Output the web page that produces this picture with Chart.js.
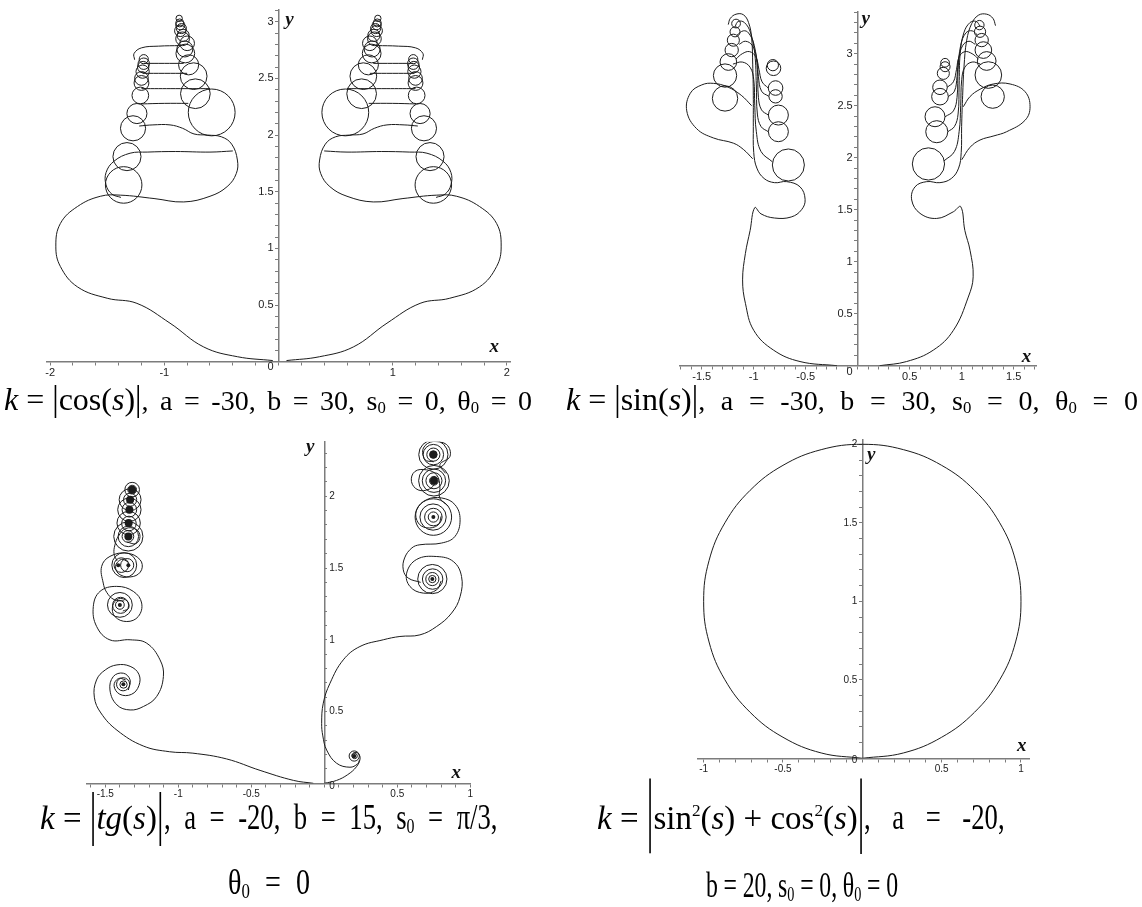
<!DOCTYPE html>
<html lang="ru">
<head>
<meta charset="utf-8">
<title>Кривые по натуральному уравнению</title>
<script src="https://cdn.jsdelivr.net/npm/chart.js@4.4.1/dist/chart.umd.min.js"></script>
<style>
  html, body { margin: 0; background: #fff; }
  body { position: relative; width: 1142px; height: 907px; overflow: hidden; }
  canvas { position: absolute; }
  .cap {
    position: absolute; font-family: 'Liberation Serif', 'Times New Roman', serif;
    line-height: 36px; color: #000; white-space: nowrap; will-change: transform;
  }
  .cap .big { font-size: 32px; }
  .cap .rest { font-size: 28px; display: inline-block; transform-origin: 0 50%; }
  .cap.low .big { font-size: 33px; }
  .cap.low .rest { font-size: 36px; }
  .cap sub { font-size: 0.6em; vertical-align: -0.18em; line-height: 0; }
  .cap sup { font-size: 0.52em; vertical-align: 0.75em; line-height: 0; }
  .bar { display: inline-block; transform-origin: 50% 68%; }
</style>
</head>
<body>
<canvas id="cosChart" width="560" height="392" style="left:0;top:0"></canvas>
<canvas id="sinChart" width="562" height="392" style="left:580px;top:0"></canvas>
<canvas id="tgChart" width="560" height="390" style="left:0;top:420px"></canvas>
<canvas id="oneChart" width="562" height="390" style="left:580px;top:420px"></canvas>

<div class="cap" data-right="532" style="left:4px;top:381px"><span class="big"><i>k</i> = <span class="bar" style="transform:scaleY(1.1)">|</span>cos(<i>s</i>)<span class="bar" style="transform:scaleY(1.1)">|</span></span><span class="rest">, a = -30, b = 30, s<sub>0</sub> = 0, θ<sub>0</sub> = 0</span></div>
<div class="cap" data-right="1138" style="left:566px;top:381px"><span class="big"><i>k</i> = <span class="bar" style="transform:scaleY(1.1)">|</span>sin(<i>s</i>)<span class="bar" style="transform:scaleY(1.1)">|</span></span><span class="rest">, a = -30, b = 30, s<sub>0</sub> = 0, θ<sub>0</sub> = 0</span></div>
<div class="cap low" data-right="497" data-squeeze="0.74" style="left:40px;top:799px"><span class="big"><i>k</i> = <span class="bar" style="transform:scaleY(1.8)">|</span><i>tg</i>(<i>s</i>)<span class="bar" style="transform:scaleY(1.8)">|</span></span><span class="rest">, a = -20, b = 15, s<sub>0</sub> = π/3,</span></div>
<div class="cap low" data-right="310" data-squeeze="0.78" style="left:228px;top:864px"><span class="rest">θ<sub>0</sub> = 0</span></div>
<div class="cap low" data-right="1005" data-squeeze="0.74" style="left:597px;top:799px"><span class="big"><i>k</i> = <span class="bar" style="transform:scaleY(2.5)">|</span>sin<sup>2</sup>(<i>s</i>) + cos<sup>2</sup>(<i>s</i>)<span class="bar" style="transform:scaleY(2.5)">|</span></span><span class="rest">, a = -20,</span></div>
<div class="cap low" data-right="898" data-squeeze="0.66" style="left:706px;top:867px"><span class="rest">b = 20, s<sub>0</sub> = 0, θ<sub>0</sub> = 0</span></div>

<script>
// k = |cos(s)|: main branch, shelf, rungs and loops for each half
const cosPathRight = [[0.07,0.01],[0.36,0.044],[0.655,0.13],[0.95,0.34],[1.24,0.515],[1.5,0.56],[1.76,0.66],[1.91,0.84],[1.95,1.02],[1.91,1.22],[1.76,1.37],[1.56,1.46],[1.385,1.47],[1.09,1.44],[0.83,1.41],[0.6,1.46],[0.45,1.545],[0.37,1.66],[0.36,1.78],[0.41,1.92],[0.5,1.985],[0.62,2.0],[0.74,2.01],[0.84,2.06],[0.95,2.09],[1.1,2.09],[1.22,2.08]];
const cosPathLeft = [[-0.05,0.01],[-0.36,0.044],[-0.655,0.13],[-0.95,0.34],[-1.24,0.515],[-1.5,0.56],[-1.76,0.66],[-1.91,0.84],[-1.95,1.02],[-1.91,1.22],[-1.76,1.37],[-1.56,1.46],[-1.385,1.47],[-1.09,1.44],[-0.83,1.41],[-0.6,1.46],[-0.45,1.545],[-0.37,1.66],[-0.36,1.78],[-0.41,1.92],[-0.5,1.985],[-0.62,2.0],[-0.74,2.01],[-0.84,2.06],[-0.95,2.09],[-1.1,2.09],[-1.22,2.08]];
const cosShelfRight = [[0.4,1.86],[0.6,1.85],[0.9,1.855],[1.15,1.85],[1.3,1.84],[1.44,1.77],[1.51,1.67],[1.51,1.56],[1.46,1.48],[1.38,1.45]];
const cosShelfLeft = [[-0.4,1.86],[-0.6,1.85],[-0.9,1.855],[-1.15,1.85],[-1.3,1.84],[-1.44,1.77],[-1.51,1.67],[-1.51,1.56],[-1.46,1.48],[-1.38,1.45]];
const cosRungsRight = [
  [[0.79,2.28],[1.0,2.28],[1.2,2.275]],
  [[0.6,2.41],[0.9,2.41],[1.2,2.41]],
  [[0.8,2.545],[1.0,2.545],[1.19,2.545]],
  [[0.83,2.633],[1.0,2.633],[1.18,2.633]],
  [[0.86,2.79],[1.05,2.785],[1.2,2.77],[1.265,2.72],[1.26,2.665]]
];
const cosRungsLeft = [
  [[-0.79,2.28],[-1.0,2.28],[-1.2,2.275]],
  [[-0.6,2.41],[-0.9,2.41],[-1.2,2.41]],
  [[-0.8,2.545],[-1.0,2.545],[-1.19,2.545]],
  [[-0.83,2.633],[-1.0,2.633],[-1.18,2.633]],
  [[-0.86,2.79],[-1.05,2.785],[-1.2,2.77],[-1.265,2.72],[-1.26,2.665]]
];
// loops as [x, y, radius] in plot units
const cosLoopsRight = [[1.356,1.56,0.16],[1.327,1.81,0.123],[1.274,2.06,0.11],[1.24,2.19,0.088],[1.21,2.35,0.073],[1.2,2.46,0.065],[1.2,2.5,0.06],[1.19,2.56,0.058],[1.185,2.6,0.05],[1.18,2.63,0.05],[1.18,2.67,0.04],
  [0.585,2.2,0.205],[0.728,2.365,0.13],[0.743,2.52,0.117],[0.787,2.62,0.088],[0.816,2.72,0.082],[0.82,2.76,0.07],[0.8,2.81,0.064],[0.84,2.85,0.06],[0.835,2.88,0.053],[0.86,2.92,0.05],[0.85,2.94,0.044],[0.86,2.97,0.04],[0.865,2.99,0.035],[0.87,3.03,0.028]];
const cosLoopsLeft = [[-1.356,1.56,0.16],[-1.327,1.81,0.123],[-1.274,2.06,0.11],[-1.24,2.19,0.088],[-1.21,2.35,0.073],[-1.2,2.46,0.065],[-1.2,2.5,0.06],[-1.19,2.56,0.058],[-1.185,2.6,0.05],[-1.18,2.63,0.05],[-1.18,2.67,0.04],
  [-0.585,2.2,0.205],[-0.728,2.365,0.13],[-0.743,2.52,0.117],[-0.787,2.62,0.088],[-0.816,2.72,0.082],[-0.82,2.76,0.07],[-0.8,2.81,0.064],[-0.84,2.85,0.06],[-0.835,2.88,0.053],[-0.86,2.92,0.05],[-0.85,2.94,0.044],[-0.86,2.97,0.04],[-0.865,2.99,0.035],[-0.87,3.03,0.028]];

// k = |sin(s)|
const sinPathRight = [[0.21,0.0],[0.47,0.04],[0.727,0.15],[0.92,0.34],[1.063,0.66],[1.11,0.855],[1.08,1.11],[1.03,1.3],[0.99,1.53],[0.919,1.48],[0.759,1.416],[0.599,1.465],[0.519,1.593],[0.551,1.72],[0.663,1.77],[0.79,1.76],[0.9,1.8],[0.97,1.9],[0.995,2.05],[0.999,2.3],[1.009,2.6],[1.022,2.875],[1.048,3.13],[1.096,3.29],[1.16,3.37],[1.24,3.38],[1.3,3.34],[1.325,3.27]];
const sinPathLeft = [[-0.2,0.0],[-0.555,0.04],[-0.81,0.15],[-1.0,0.34],[-1.08,0.6],[-1.107,0.825],[-1.08,1.08],[-1.035,1.3],[-0.99,1.52],[-0.93,1.46],[-0.8,1.42],[-0.64,1.43],[-0.54,1.5],[-0.506,1.6],[-0.555,1.72],[-0.683,1.77],[-0.8,1.76],[-0.9,1.8],[-0.97,1.9],[-1.0,2.05],[-1.004,2.3],[-1.004,2.6],[-1.01,2.9],[-1.02,3.15],[-1.05,3.3],[-1.1,3.375],[-1.17,3.38],[-1.225,3.34],[-1.245,3.28]];
const sinLobeRight = [[1.0,1.98],[1.08,2.1],[1.176,2.17],[1.31,2.21],[1.432,2.25],[1.609,2.36],[1.657,2.49],[1.609,2.635],[1.465,2.709],[1.304,2.709],[1.176,2.658],[1.08,2.588],[1.015,2.49]];
const sinLobeLeft = [[-1.01,1.99],[-1.1,2.08],[-1.196,2.14],[-1.388,2.19],[-1.55,2.28],[-1.644,2.45],[-1.61,2.62],[-1.5,2.7],[-1.388,2.715],[-1.25,2.68],[-1.12,2.6],[-1.02,2.5]];
const sinArcsRight = [
  [[0.866,2.25],[0.93,2.3],[0.965,2.42],[0.975,2.7],[0.985,3.0],[1.02,3.2],[1.08,3.3],[1.14,3.31],[1.176,3.265]],
  [[0.84,2.394],[0.92,2.45],[0.955,2.58],[0.965,2.85],[0.99,3.08],[1.04,3.2],[1.1,3.22],[1.15,3.18]],
  [[0.87,2.587],[0.93,2.64],[0.955,2.78],[0.97,2.95],[1.01,3.08],[1.07,3.12],[1.13,3.09]],
  [[0.86,2.677],[0.92,2.73],[0.95,2.85],[0.975,2.97],[1.03,3.02],[1.1,3.0],[1.16,2.95]],
  [[0.83,1.97],[0.93,2.06],[0.975,2.25],[0.99,2.5],[1.0,2.75],[1.03,2.87],[1.1,2.92],[1.18,2.9]]
];
const sinArcsLeft = [
  [[-0.86,2.25],[-0.93,2.3],[-0.965,2.42],[-0.975,2.7],[-0.99,3.0],[-1.03,3.2],[-1.09,3.3],[-1.15,3.31],[-1.18,3.26]],
  [[-0.86,2.41],[-0.925,2.46],[-0.955,2.58],[-0.965,2.85],[-0.995,3.08],[-1.05,3.2],[-1.1,3.22],[-1.16,3.18]],
  [[-0.855,2.59],[-0.925,2.64],[-0.955,2.78],[-0.97,2.95],[-1.015,3.08],[-1.08,3.12],[-1.14,3.09]],
  [[-0.86,2.67],[-0.92,2.73],[-0.95,2.85],[-0.98,2.97],[-1.04,3.02],[-1.11,3.0],[-1.17,2.95]],
  [[-0.82,1.96],[-0.93,2.06],[-0.975,2.25],[-0.99,2.5],[-1.0,2.75],[-1.035,2.87],[-1.11,2.92],[-1.2,2.9]]
];
const sinLoopsRight = [[0.68,1.94,0.155],[0.76,2.25,0.106],[0.743,2.394,0.096],[0.791,2.587,0.08],[0.791,2.677,0.07],[0.823,2.811,0.058],[0.84,2.875,0.048],[0.84,2.913,0.042],
  [1.298,2.587,0.112],[1.256,2.795,0.128],[1.24,2.93,0.09],[1.208,3.035,0.08],[1.192,3.131,0.064],[1.176,3.211,0.054],[1.17,3.275,0.045]];
const sinLoopsLeft = [[-0.667,1.93,0.154],[-0.763,2.25,0.096],[-0.763,2.41,0.096],[-0.79,2.59,0.064],[-0.79,2.67,0.07],[-0.81,2.86,0.07],[-0.816,2.89,0.054],
  [-1.276,2.57,0.122],[-1.276,2.79,0.112],[-1.244,2.92,0.08],[-1.212,3.035,0.064],[-1.196,3.13,0.058],[-1.18,3.21,0.048],[-1.17,3.29,0.042]];

// k = |tg(s)|: branches between the spiral points
const tgBranchesLeft = [
  [[-0.075,0.0],[-0.21,0.02],[-0.44,0.09],[-0.67,0.17],[-0.9,0.21],[-1.06,0.22],[-1.24,0.26],[-1.42,0.37],[-1.53,0.49],[-1.575,0.6],[-1.56,0.72],[-1.5,0.79],[-1.42,0.825],[-1.33,0.815],[-1.27,0.76],[-1.27,0.68],[-1.32,0.62],[-1.4,0.62],[-1.44,0.68],[-1.41,0.73],[-1.36,0.72]],
  [[-1.342,0.65],[-1.33,0.72],[-1.376,0.767],[-1.445,0.744],[-1.468,0.65],[-1.42,0.546],[-1.33,0.511],[-1.239,0.535],[-1.148,0.605],[-1.102,0.744],[-1.125,0.86],[-1.216,0.976],[-1.33,1.0],[-1.468,0.999],[-1.559,1.092],[-1.582,1.232],[-1.536,1.337],[-1.422,1.372],[-1.308,1.337],[-1.251,1.256],[-1.274,1.162],[-1.353,1.127],[-1.434,1.162],[-1.45,1.235],[-1.41,1.285],[-1.35,1.27],[-1.34,1.22],[-1.38,1.2]],
  [[-1.37,1.27],[-1.44,1.28],[-1.49,1.33],[-1.514,1.395],[-1.525,1.511],[-1.468,1.581],[-1.353,1.604],[-1.262,1.558],[-1.251,1.488],[-1.308,1.441],[-1.399,1.453],[-1.43,1.51],[-1.39,1.56],[-1.34,1.54]],
  [[-1.42,1.55],[-1.44,1.6],[-1.434,1.66],[-1.411,1.72],[-1.36,1.775],[-1.29,1.77],[-1.262,1.72],[-1.29,1.67],[-1.35,1.68]]
];
const tgBranchesRight = [
  [[0.0,0.0],[0.084,0.02],[0.16,0.06],[0.22,0.115],[0.245,0.17],[0.235,0.205],[0.21,0.215],[0.19,0.2],[0.195,0.18],[0.215,0.185]],
  [[0.24,0.16],[0.228,0.135],[0.176,0.112],[0.084,0.14],[0.016,0.232],[-0.01,0.33],[-0.018,0.418],[-0.007,0.558],[0.039,0.697],[0.13,0.86],[0.244,0.953],[0.404,1.0],[0.518,1.023],[0.655,1.034],[0.77,1.093],[0.872,1.186],[0.93,1.3],[0.94,1.441],[0.884,1.545],[0.77,1.58],[0.633,1.56],[0.564,1.464],[0.587,1.371],[0.678,1.325],[0.77,1.348],[0.8,1.41]],
  [[0.66,1.4],[0.575,1.43],[0.541,1.487],[0.55,1.57],[0.6,1.64],[0.655,1.662],[0.804,1.674],[0.895,1.72],[0.93,1.836],[0.895,1.941],[0.804,1.988],[0.701,1.976],[0.633,1.906],[0.64,1.82],[0.7,1.78],[0.78,1.8],[0.8,1.86]],
  [[0.85,1.93],[0.79,1.99],[0.792,2.067],[0.77,2.148],[0.7,2.184],[0.62,2.172],[0.597,2.102],[0.643,2.044],[0.72,2.05],[0.76,2.09]],
  [[0.83,2.16],[0.792,2.22],[0.861,2.278],[0.838,2.36],[0.747,2.382],[0.679,2.336],[0.69,2.255],[0.75,2.24]]
];
const tgTurns = [[-1.378,0.69,0.045],[-1.375,0.688,0.025],
  [-1.4,1.243,0.085],[-1.395,1.24,0.055],[-1.4,1.243,0.03],
  [-1.37,1.52,0.085],[-1.39,1.52,0.05],[-1.35,1.52,0.045],
  [-1.342,1.72,0.1],[-1.342,1.72,0.07],[-1.345,1.72,0.04],
  [-1.34,1.813,0.08],[-1.338,1.81,0.05],[-1.335,1.906,0.08],[-1.335,1.906,0.05],
  [-1.33,1.976,0.075],[-1.33,1.976,0.045],[-1.316,2.046,0.05],[-1.316,2.046,0.03],
  [0.205,0.19,0.035],[0.208,0.19,0.018],
  [0.74,1.423,0.1],[0.742,1.423,0.07],[0.74,1.423,0.045],[0.74,1.423,0.025],
  [0.747,1.855,0.125],[0.745,1.855,0.09],[0.747,1.855,0.06],[0.747,1.855,0.035],
  [0.751,2.108,0.105],[0.751,2.108,0.08],[0.751,2.108,0.055],[0.751,2.108,0.03],
  [0.747,2.29,0.1],[0.747,2.29,0.07],[0.747,2.29,0.045],[0.747,2.29,0.025]];
const tgCoresBig = [[-1.342,1.72],[-1.34,1.813],[-1.335,1.906],[-1.33,1.976],[-1.316,2.046],[0.751,2.108],[0.747,2.29]];
const tgCoresSmall = [[-1.376,0.69],[-1.4,1.243],[-1.411,1.52],[-1.342,1.52],[0.205,0.19],[0.74,1.423],[0.747,1.855]];

// k = sin^2 + cos^2 = 1: unit circle through the origin
const circleX = [0, 0.259, 0.5, 0.707, 0.866, 0.966, 1, 0.966, 0.866, 0.707, 0.5, 0.259, 0, -0.259, -0.5, -0.707, -0.866, -0.966, -1, -0.966, -0.866, -0.707, -0.5, -0.259, 0];
const circleY = [0, 0.034, 0.134, 0.293, 0.5, 0.741, 1, 1.259, 1.5, 1.707, 1.866, 1.966, 2, 1.966, 1.866, 1.707, 1.5, 1.259, 1, 0.741, 0.5, 0.293, 0.134, 0.034, 0];

const INK = '#1c1c1c';
const AXIS = '#7c7c7c';
const TICK = '#222';

function curveSet(points) {
  return {
    data: points.map(([x, y]) => ({ x, y })),
    showLine: true, tension: 0.4, fill: false,
    borderColor: INK, borderWidth: 1, pointRadius: 0
  };
}

// loop radius is in plot units, so convert it through the x scale
function loopRadius(c) {
  if (!c.raw) return 0;
  const sx = c.chart.scales.x;
  const v = Math.abs(sx.getPixelForValue(c.raw.r) - sx.getPixelForValue(0));
  return isFinite(v) ? v : 0;
}

function loopSet(list) {
  return {
    data: list.map(([x, y, r]) => ({ x, y, r })),
    showLine: false, pointStyle: 'circle',
    pointBackgroundColor: 'rgba(0,0,0,0)', pointBorderColor: INK, pointBorderWidth: 1,
    pointRadius: loopRadius
  };
}

function coreSet(list, size) {
  return {
    data: list.map(([x, y]) => ({ x, y })),
    showLine: false, pointRadius: size,
    pointBackgroundColor: INK, pointBorderWidth: 0
  };
}

function tickText(v, every) {
  const k = v / every;
  return Math.abs(k - Math.round(k)) < 1e-6 ? String(+v.toFixed(1)) : '';
}

// y tick labels and the axis names, drawn next to axes that cross at the origin
const axisText = {
  id: 'axisText',
  afterDraw(chart, _args, o) {
    const { ctx, scales: { x, y } } = chart;
    const x0 = x.getPixelForValue(0);
    const y0 = y.getPixelForValue(0);
    ctx.save();
    ctx.fillStyle = TICK;
    ctx.font = o.tickSize + 'px "Liberation Sans", Arial, sans-serif';
    ctx.textBaseline = 'middle';
    ctx.textAlign = o.ySide === 'right' ? 'left' : 'right';
    const dx = o.ySide === 'right' ? o.gap : -o.gap;
    y.ticks.forEach(t => {
      const txt = tickText(t.value, o.yEvery);
      if (txt) ctx.fillText(txt, x0 + dx, y.getPixelForValue(t.value) + (t.value === 0 ? o.zeroDy : 0));
    });
    ctx.fillStyle = '#111';
    ctx.font = 'italic bold 19px "Liberation Serif", "Times New Roman", serif';
    ctx.textAlign = 'center';
    ctx.fillText('x', x.right + o.xName[0], y0 + o.xName[1]);
    ctx.fillText('y', x0 + o.yName[0], y.top + o.yName[1]);
    ctx.restore();
  }
};

function scaleSet(p) {
  return {
    x: {
      type: 'linear', min: p.xRange[0], max: p.xRange[1], position: { y: 0 },
      afterFit: s => { s.height = 0; },
      border: { color: AXIS, width: 1.5 },
      grid: { drawOnChartArea: false, color: AXIS, tickLength: 3 },
      ticks: {
        stepSize: p.xStep, includeBounds: false, autoSkip: false, maxRotation: 0, minRotation: 0,
        padding: 2, color: TICK, font: { family: 'Liberation Sans', size: p.tickSize },
        callback: v => (Math.abs(v) < 1e-9 ? '' : tickText(v, p.xEvery))
      }
    },
    y: {
      type: 'linear', min: p.yRange[0], max: p.yRange[1], position: { x: 0 },
      afterFit: s => { s.width = 0; },
      border: { color: AXIS, width: 1.5 },
      grid: { drawOnChartArea: false, color: AXIS, tickLength: p.yTick },
      ticks: { stepSize: p.yStep, includeBounds: false, autoSkip: false, display: false }
    }
  };
}

function drawPanel(id, p, datasets) {
  new Chart(document.getElementById(id), {
    type: 'scatter',
    data: { datasets },
    options: {
      responsive: false, animation: false, events: [],
      layout: { padding: p.pad, autoPadding: false },
      plugins: {
        legend: { display: false }, tooltip: { enabled: false },
        axisText: { ySide: p.ySide, gap: p.gap, yEvery: p.yEvery, tickSize: p.tickSize, zeroDy: p.zeroDy, xName: p.xName, yName: p.yName }
      },
      scales: scaleSet(p)
    },
    plugins: [axisText]
  });
}

drawPanel('cosChart', {
  xRange: [-2.03, 2.03], xStep: 0.2, xEvery: 1, yRange: [0, 3.104], yStep: 0.1, yEvery: 0.5,
  tickSize: 11, yTick: 3, ySide: 'left', gap: 5, zeroDy: 5,
  pad: { left: 46.7, right: 49.7, top: 10, bottom: 30.3 }, xName: [-16, -15], yName: [11, 10]
}, [
  curveSet(cosPathRight), curveSet(cosPathLeft), curveSet(cosShelfRight), curveSet(cosShelfLeft),
  ...cosRungsRight.map(curveSet), ...cosRungsLeft.map(curveSet),
  loopSet(cosLoopsRight), loopSet(cosLoopsLeft)
]);

drawPanel('sinChart', {
  xRange: [-1.71, 1.72], xStep: 0.1, xEvery: 0.5, yRange: [0, 3.404], yStep: 0.1, yEvery: 0.5,
  tickSize: 11, yTick: 3, ySide: 'left', gap: 5, zeroDy: 6,
  pad: { left: 99.9, right: 105.4, top: 11.7, bottom: 26.3 }, xName: [-10, -9], yName: [8, 7]
}, [
  curveSet(sinPathRight), curveSet(sinPathLeft), curveSet(sinLobeRight), curveSet(sinLobeLeft),
  ...sinArcsRight.map(curveSet), ...sinArcsLeft.map(curveSet),
  loopSet(sinLoopsRight), loopSet(sinLoopsLeft)
]);

drawPanel('tgChart', {
  xRange: [-1.63, 1.0], xStep: 0.1, xEvery: 0.5, yRange: [0, 2.38], yStep: 0.1, yEvery: 0.5,
  tickSize: 10, yTick: -3, ySide: 'right', gap: 5, zeroDy: 3,
  pad: { left: 86.3, right: 89.7, top: 21.7, bottom: 26.7 }, xName: [-14, -10], yName: [-14, 5]
}, [
  ...tgBranchesLeft.map(curveSet), ...tgBranchesRight.map(curveSet),
  loopSet(tgTurns), coreSet(tgCoresBig, 4), coreSet(tgCoresSmall, 2)
]);

drawPanel('oneChart', {
  xRange: [-1.04, 1.055], xStep: 0.1, xEvery: 0.5, yRange: [0, 2.03], yStep: 0.1, yEvery: 0.5,
  tickSize: 10, yTick: 3, ySide: 'left', gap: 5, zeroDy: 2,
  pad: { left: 117.3, right: 112.3, top: 19.6, bottom: 51.7 }, xName: [-8, -12], yName: [9, 15]
}, [
  curveSet(circleX.map((x, i) => [x, circleY[i]]))
]);

// each caption ends where its column ends: the top ones widen their spaces,
// the bottom ones use narrowed glyphs and then even out the spaces
document.querySelectorAll('.cap').forEach(el => {
  const rest = el.querySelector('.rest');
  const box = rest.getBoundingClientRect();
  const squeeze = +(el.dataset.squeeze || 1);
  const room = (+el.dataset.right - box.left) / squeeze;
  const gaps = (rest.textContent.match(/ /g) || []).length;
  rest.style.wordSpacing = ((room - box.width) / gaps) + 'px';
  if (squeeze !== 1) rest.style.transform = 'scaleX(' + squeeze + ')';
});
</script>
</body>
</html>
